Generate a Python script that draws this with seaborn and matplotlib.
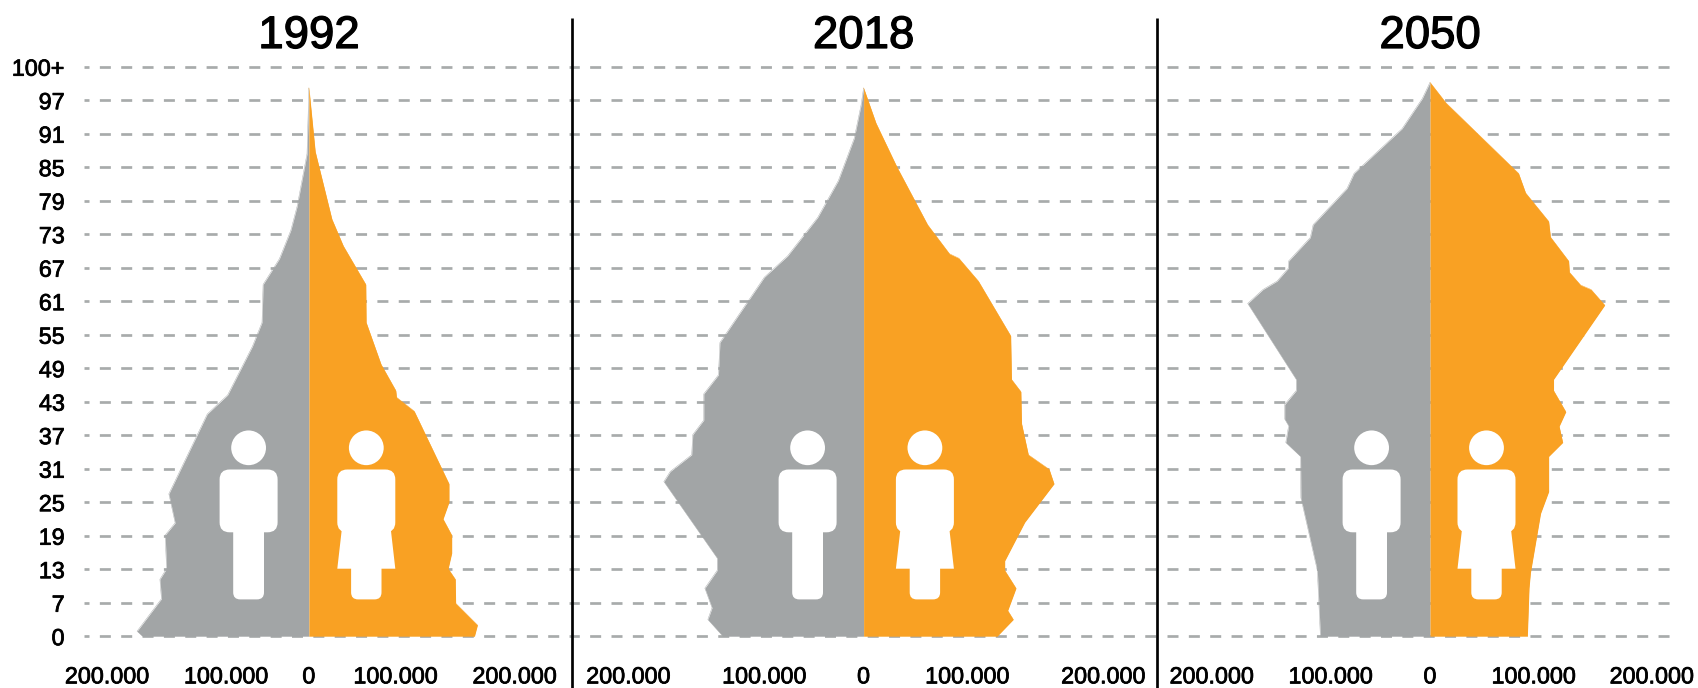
import matplotlib
matplotlib.use("Agg")
import matplotlib.pyplot as plt
import matplotlib.patheffects as pe
from matplotlib.lines import Line2D
from matplotlib.patches import Ellipse, FancyBboxPatch, Polygon
from matplotlib.transforms import Affine2D
import seaborn as sns

# ---------- data (thousands of people, outline vertices) ----------
years = ["1992", "2018", "2050"]

age_labels = ["0", "7", "13", "19", "25", "31", "37", "43", "49", "55", "61",
              "67", "73", "79", "85", "91", "97", "100+"]
age_ticks = [1, 7, 13, 19, 25, 31, 37, 43, 49, 55, 61, 67, 73, 79, 85, 91, 97, 103]

x_labels = ["200.000", "100.000", "0", "100.000", "200.000"]

ages_m_1992 = [1, 1.9, 7.7, 11.2, 13.1, 19.1, 21.3, 26.5, 40.8, 44.2, 52.9, 57.2, 64, 68.6, 73.7, 78, 87.4, 99.2]
vals_m_1992 = [139.8, 144.4, 123.9, 125.2, 119.6, 120.8, 112.4, 117.7, 85.4, 68.3, 47.5, 39.4, 38.5, 24.8, 15.2, 9.9, 1.6, 0]
ages_f_1992 = [1, 3, 6.9, 11.2, 13.1, 15.9, 19.1, 22, 25, 28.3, 41.3, 43.8, 45, 49.7, 57.2, 64, 70.9, 75.7, 87.8, 99.2]
vals_f_1992 = [139.1, 141.6, 123.3, 123, 117, 120, 120, 112.7, 117.7, 117.7, 88.5, 73.6, 73, 60.6, 48.1, 47.8, 28.9, 19.3, 5.3, 0]

ages_m_2018 = [1, 4, 6.1, 9.6, 12.8, 15, 28.7, 30.5, 33.5, 37.1, 39.7, 44.4, 47.8, 53.6, 65.3, 69.1, 76, 82.6, 90.2, 96.1, 99.2]
vals_m_2018 = [103.6, 114.7, 111.6, 116.9, 107.8, 107.8, 147.1, 142.4, 126.6, 125.8, 117.7, 117.7, 106.9, 105.8, 73.1, 56, 33.8, 18.6, 6.9, 1.9, 0]
ages_f_2018 = [1, 4, 5.6, 9.6, 12.8, 14.5, 21.4, 28.3, 30.9, 33.5, 39.1, 44.8, 47, 54.8, 64.6, 68.7, 69.5, 74.7, 85.1, 92.9, 99.2]
vals_f_2018 = [98.3, 110.2, 106.1, 112.2, 103.9, 103.9, 118.6, 140.2, 136.6, 121.3, 116.3, 115.8, 108.9, 108.3, 84.5, 70.1, 63.2, 47.1, 24.4, 9.1, 0]

ages_m_2050 = [1, 12.8, 25.8, 33.2, 35.7, 38.7, 39.9, 42.5, 45, 47, 60.6, 63.1, 64.6, 66.9, 68.2, 72.4, 74.7, 81.2, 83.9, 91.9, 97.3, 100.2]
vals_m_2050 = [92.1, 94.7, 108.5, 108.8, 121.2, 118.8, 122.1, 122.1, 112.4, 112.4, 153.2, 140.3, 128.5, 119.1, 118.8, 100.6, 98.2, 69.7, 63.8, 23.5, 6.5, 0]
ages_f_2050 = [1, 9.6, 12.4, 23, 26.9, 33.2, 35.7, 38.6, 41.2, 45, 47, 60.3, 63.1, 63.9, 66.2, 68.2, 72.5, 75.3, 80.4, 83.9, 96.5, 100.2]
vals_f_2050 = [81.8, 83.2, 84.4, 92.9, 99.7, 99.7, 111.5, 108.5, 114.1, 103.8, 103.8, 146.8, 135.3, 126.5, 117.1, 116.5, 101.2, 99.7, 80.3, 74.4, 13.5, 0]

# ---------- style ----------
W, H = 1699, 688
GREY = "#A2A5A6"
ORANGE = "#F9A123"
GRID = "#A8ABAB"
FONT = "Liberation Sans"

sns.set_theme(style="white")
plt.rcParams["font.family"] = [FONT, "DejaVu Sans"]
plt.rcParams["lines.scale_dashes"] = False
pt = 72 / 100  # points per pixel at dpi 100
medium = [pe.withStroke(linewidth=0.55, foreground="black")]

Y_TOP, Y_BOT = 66.7, 636.2               # pixel rows of the 100+ and 0 lines
PX_PER_AGE = (Y_BOT - Y_TOP) / (age_ticks[-1] - age_ticks[0])
AX_TOP, AX_BOT = Y_TOP - PX_PER_AGE, Y_BOT + PX_PER_AGE
LINE_1, LINE_2 = 572.0, 1157.0           # pixel columns of the divider lines

panels = [
    dict(left=84.0, right=LINE_1, center=308.9, scale=1.19, offset=6.0,
         ticks=[-169.4, -69.3, 0, 73.1, 173.1], men=248.6, women=366.3,
         m=(ages_m_1992, vals_m_1992), f=(ages_f_1992, vals_f_1992)),
    dict(left=LINE_1, right=LINE_2, center=863.6, scale=1.358, offset=3.7,
         ticks=[-173.0, -72.9, 0, 76.6, 176.7], men=807.6, women=924.9,
         m=(ages_m_2018, vals_m_2018), f=(ages_f_2018, vals_f_2018)),
    dict(left=1167.0, right=1679.0, center=1430.0, scale=1.19, offset=0.0,
         ticks=[-183.2, -83.2, 0, 87.4, 186.6], men=1371.6, women=1486.5,
         m=(ages_m_2050, vals_m_2050), f=(ages_f_2050, vals_f_2050)),
]

fig = plt.figure(figsize=(W / 100, H / 100), dpi=100, facecolor="white")
px = Affine2D().scale(1 / W, -1 / H).translate(0, 1) + fig.transFigure


def add(patch):
    patch.set_transform(px)
    patch.set_zorder(5)
    patch.set_facecolor("white")
    patch.set_edgecolor("none")
    fig.add_artist(patch)


def round_box(x0, y0, x1, y1, r):
    add(FancyBboxPatch((x0 + r, y0 + r), x1 - x0 - 2 * r, y1 - y0 - 2 * r,
                       boxstyle=f"round,pad={r},rounding_size={r}"))


def person(cx, female):
    add(Ellipse((cx, 447.8), 34.8, 34.7))
    round_box(cx - 29, 469.5, cx + 29, 532.3, 10)
    if female:
        add(Polygon([(cx - 24, 525), (cx + 24, 525), (cx + 29, 568.7), (cx - 29, 568.7)]))
        round_box(cx - 15.2, 555, cx + 15.2, 599.4, 7)
    else:
        round_box(cx - 15.4, 520, cx + 15.4, 599.4, 7)


for i, (year, p) in enumerate(zip(years, panels)):
    ax = fig.add_axes([p["left"] / W, 1 - AX_BOT / H,
                       (p["right"] - p["left"]) / W, (AX_BOT - AX_TOP) / H])
    ax.set_facecolor("none")
    ax.set_xlim((p["left"] - p["center"]) / p["scale"], (p["right"] - p["center"]) / p["scale"])
    ax.set_ylim(age_ticks[0] - 1, age_ticks[-1] + 1)

    ages_m, vals_m = p["m"]
    ages_f, vals_f = p["f"]
    neg_m = [-v for v in vals_m]
    ax.fill_betweenx(ages_m, neg_m, 0, color=GREY, lw=0, zorder=2)
    ax.fill_betweenx(ages_f, 0, vals_f, color=ORANGE, lw=0, zorder=2)
    sns.lineplot(x=neg_m, y=ages_m, sort=False, estimator=None, color=GREY, lw=0.3, ax=ax, zorder=2)
    sns.lineplot(x=vals_f, y=ages_f, sort=False, estimator=None, color=ORANGE, lw=0.3, ax=ax, zorder=2)

    ax.set_axisbelow(True)
    ax.xaxis.grid(False)
    ax.yaxis.grid(True, color=GRID, lw=2.7 * pt,
                  linestyle=(p["offset"] * pt, (11 * pt, 10.35 * pt)))
    ax.set_yticks(age_ticks)
    ax.set_xticks(p["ticks"])
    ax.set_xticklabels(x_labels)
    ax.tick_params(axis="x", length=0, pad=17.0, labelsize=16.8)
    if i == 0:
        ax.set_yticklabels(age_labels)
        ax.tick_params(axis="y", length=0, pad=13.9, labelsize=16.8)
    else:
        ax.tick_params(axis="y", length=0, labelleft=False)
    for t in ax.get_xticklabels() + ax.get_yticklabels():
        t.set_color("black")
        t.set_fontfamily(FONT)
        t.set_path_effects(medium)
    ax.set_xlabel("")
    ax.set_ylabel("")
    sns.despine(ax=ax, left=True, bottom=True)

    ax.text(0, age_ticks[0] + (Y_BOT - 36) / PX_PER_AGE, year, ha="center", va="center",
            fontsize=32.8, color="black", family=FONT, clip_on=False,
            path_effects=[pe.withStroke(linewidth=0.9, foreground="black")])

    person(p["men"], False)
    person(p["women"], True)

for xp in (LINE_1, LINE_2):
    fig.add_artist(Line2D([xp, xp], [18, H], transform=px, color="black",
                          lw=2.7 * pt, zorder=6, solid_capstyle="butt"))

fig.savefig("out.png", dpi=100, facecolor="white")
